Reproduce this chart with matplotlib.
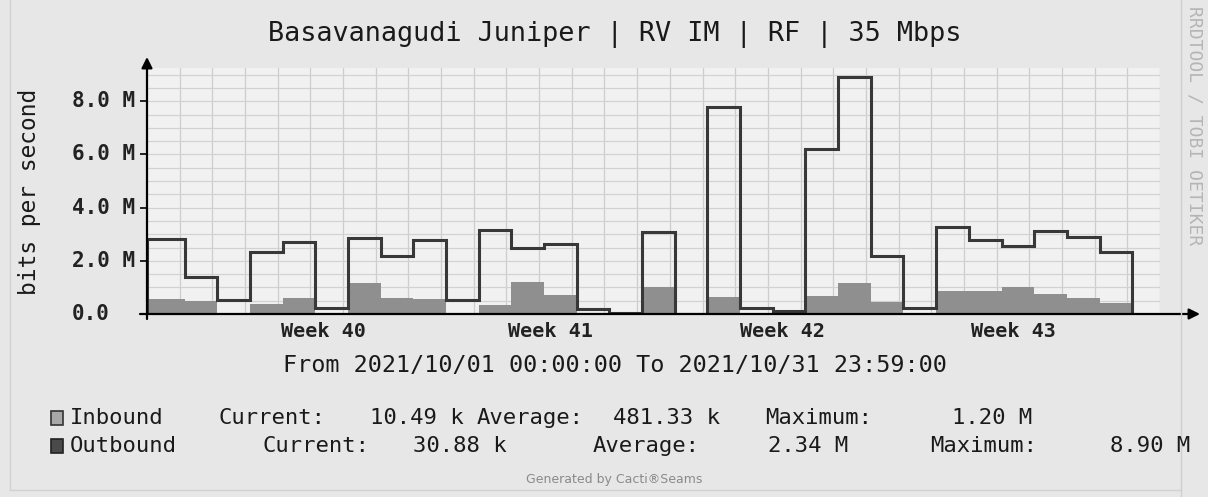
import numpy as np
import matplotlib
matplotlib.use("Agg")
import matplotlib.pyplot as plt
from matplotlib.patches import Rectangle
from matplotlib.lines import Line2D

# ---------------- data (values in Mbit/s, one per day, Oct 1 .. Oct 30) ----------------
outbound = [2.81, 1.38, 0.54, 2.34, 2.72, 0.22, 2.87, 2.19, 2.79, 0.53,
            3.17, 2.49, 2.62, 0.19, 0.02, 3.09, 0.00, 7.80, 0.24, 0.12,
            6.19, 8.90, 2.19, 0.21, 3.28, 2.78, 2.57, 3.12, 2.91, 2.34]
inbound = [0.55, 0.50, 0.02, 0.38, 0.61, 0.05, 1.15, 0.61, 0.57, 0.00,
           0.34, 1.21, 0.71, 0.05, 0.00, 1.03, 0.00, 0.64, 0.03, 0.03,
           0.69, 1.15, 0.46, 0.02, 0.86, 0.86, 1.00, 0.74, 0.61, 0.41]
week_labels = ["Week 40", "Week 41", "Week 42", "Week 43"]
week_pos = [5.4, 12.35, 19.45, 26.5]
ytick_vals = [0.0, 2.0, 4.0, 6.0, 8.0]
ytick_labels = ["0.0", "2.0 M", "4.0 M", "6.0 M", "8.0 M"]
n_days = 31
day_offset = 0.15

title = "Basavanagudi Juniper | RV IM | RF | 35 Mbps"
subtitle = "From 2021/10/01 00:00:00 To 2021/10/31 23:59:00"

# ---------------- figure ----------------
W, H = 1208, 497
BG = "#e7e7e7"
MONO = "DejaVu Sans Mono"
fig = plt.figure(figsize=(W / 100, H / 100), dpi=100, facecolor=BG)

def fx(x):
    return x / W

def fy(y):
    return 1 - y / H

left, right, top, bottom = 147, 1160, 68, 314
ax = fig.add_axes([fx(left), fy(bottom), (right - left) / W, (bottom - top) / H])
ax.set_facecolor("#f1f1f1")
ax.set_xlim(0, n_days)
ax.set_ylim(0, 9.25)
for s in ax.spines.values():
    s.set_visible(False)

# grid
for d in range(1, n_days + 1):
    ax.axvline(d, color="#cdcdcd", lw=0.9, zorder=1)
for v in np.arange(0.5, 9.25, 0.5):
    ax.axhline(v, color="#d2d2d2", lw=0.9, zorder=1)

# series
edges = np.concatenate([[0.0], np.arange(1, len(outbound) + 1) + day_offset])
ax.stairs(inbound, edges, fill=True, color="#8f8f8f", zorder=2)
ax.stairs(outbound, edges, color="#383838", lw=2.2, baseline=0, zorder=3)

# ticks / labels
ax.set_xticks(week_pos, week_labels)
ax.tick_params(axis="x", length=0, pad=6)
for lab in ax.get_xticklabels():
    lab.set_fontfamily(MONO)
    lab.set_fontweight("bold")
    lab.set_fontsize(14.5)
    lab.set_color("#222222")
ax.set_yticks(ytick_vals, [""] * len(ytick_vals))
ax.tick_params(axis="y", length=5, width=1.2, color="black", direction="out")
ytrans = ax.get_yaxis_transform()
for v, lab in zip(ytick_vals, ytick_labels):
    ax.text(-(left - 72) / (right - left), v, lab, transform=ytrans, ha="left",
            va="center", family=MONO, weight="bold", size=15, color="#222222")

# axis arrows
ax.annotate("", xy=(1 + (1200 - right) / (right - left), 0), xytext=(-7 / (right - left), 0),
            xycoords="axes fraction", textcoords="axes fraction",
            arrowprops=dict(arrowstyle="-|>", color="black", lw=1.6, mutation_scale=16,
                            shrinkA=0, shrinkB=0), zorder=5)
ax.annotate("", xy=(0, 1 + (top - 57) / (bottom - top)), xytext=(0, -5 / (bottom - top)),
            xycoords="axes fraction", textcoords="axes fraction",
            arrowprops=dict(arrowstyle="-|>", color="black", lw=1.6, mutation_scale=16,
                            shrinkA=0, shrinkB=0), zorder=5)

# texts
fig.text(fx(615), fy(35), title, ha="center", va="center", family=MONO, size=19.4, color="#1a1a1a")
fig.text(fx(30), fy(192), "bits per second", rotation=90, ha="center", va="center",
         family=MONO, size=16.5, color="#1a1a1a")
fig.text(fx(615), fy(366), subtitle, ha="center", va="center", family=MONO, size=16.8, color="#1a1a1a")

# legend
row1 = [("Inbound", 70), ("Current:", 218), ("10.49 k", 370), ("Average:", 477),
        ("481.33 k", 613), ("Maximum:", 765), ("1.20 M", 952)]
row2 = [("Outbound", 70), ("Current:", 262), ("30.88 k", 413), ("Average:", 593),
        ("2.34 M", 768), ("Maximum:", 930), ("8.90 M", 1110)]
for (txt, x) in row1:
    fig.text(fx(x), fy(418), txt, ha="left", va="center", family=MONO, size=16, color="#1a1a1a")
for (txt, x) in row2:
    fig.text(fx(x), fy(446), txt, ha="left", va="center", family=MONO, size=16, color="#1a1a1a")
fig.add_artist(Rectangle((fx(51), fy(425)), 12 / W, 14 / H, transform=fig.transFigure,
                         facecolor="#a8a8a8", edgecolor="#333333", lw=1.2))
fig.add_artist(Rectangle((fx(51), fy(453)), 12 / W, 14 / H, transform=fig.transFigure,
                         facecolor="#4a4a4a", edgecolor="#222222", lw=1.2))

fig.text(fx(614), fy(479), "Generated by Cacti®Seams", ha="center", va="center",
         family="DejaVu Sans", size=9, color="#8a8a8a")

# watermark + page border
fig.text(fx(1195), fy(126), "RRDTOOL / TOBI OETIKER", rotation=270, ha="center", va="center",
         family=MONO, size=13, color="#b5b5b5")
fig.add_artist(Line2D([fx(1181), fx(1181)], [0, 1], transform=fig.transFigure,
                      color="#cfcfcf", lw=1.0))
fig.add_artist(Line2D([fx(10), fx(10)], [fy(490), 1], transform=fig.transFigure,
                      color="#d2d2d2", lw=1.0))
fig.add_artist(Line2D([fx(10), fx(1181)], [fy(490), fy(490)], transform=fig.transFigure,
                      color="#d2d2d2", lw=1.0))

fig.savefig("out.png", dpi=100, facecolor=BG)
